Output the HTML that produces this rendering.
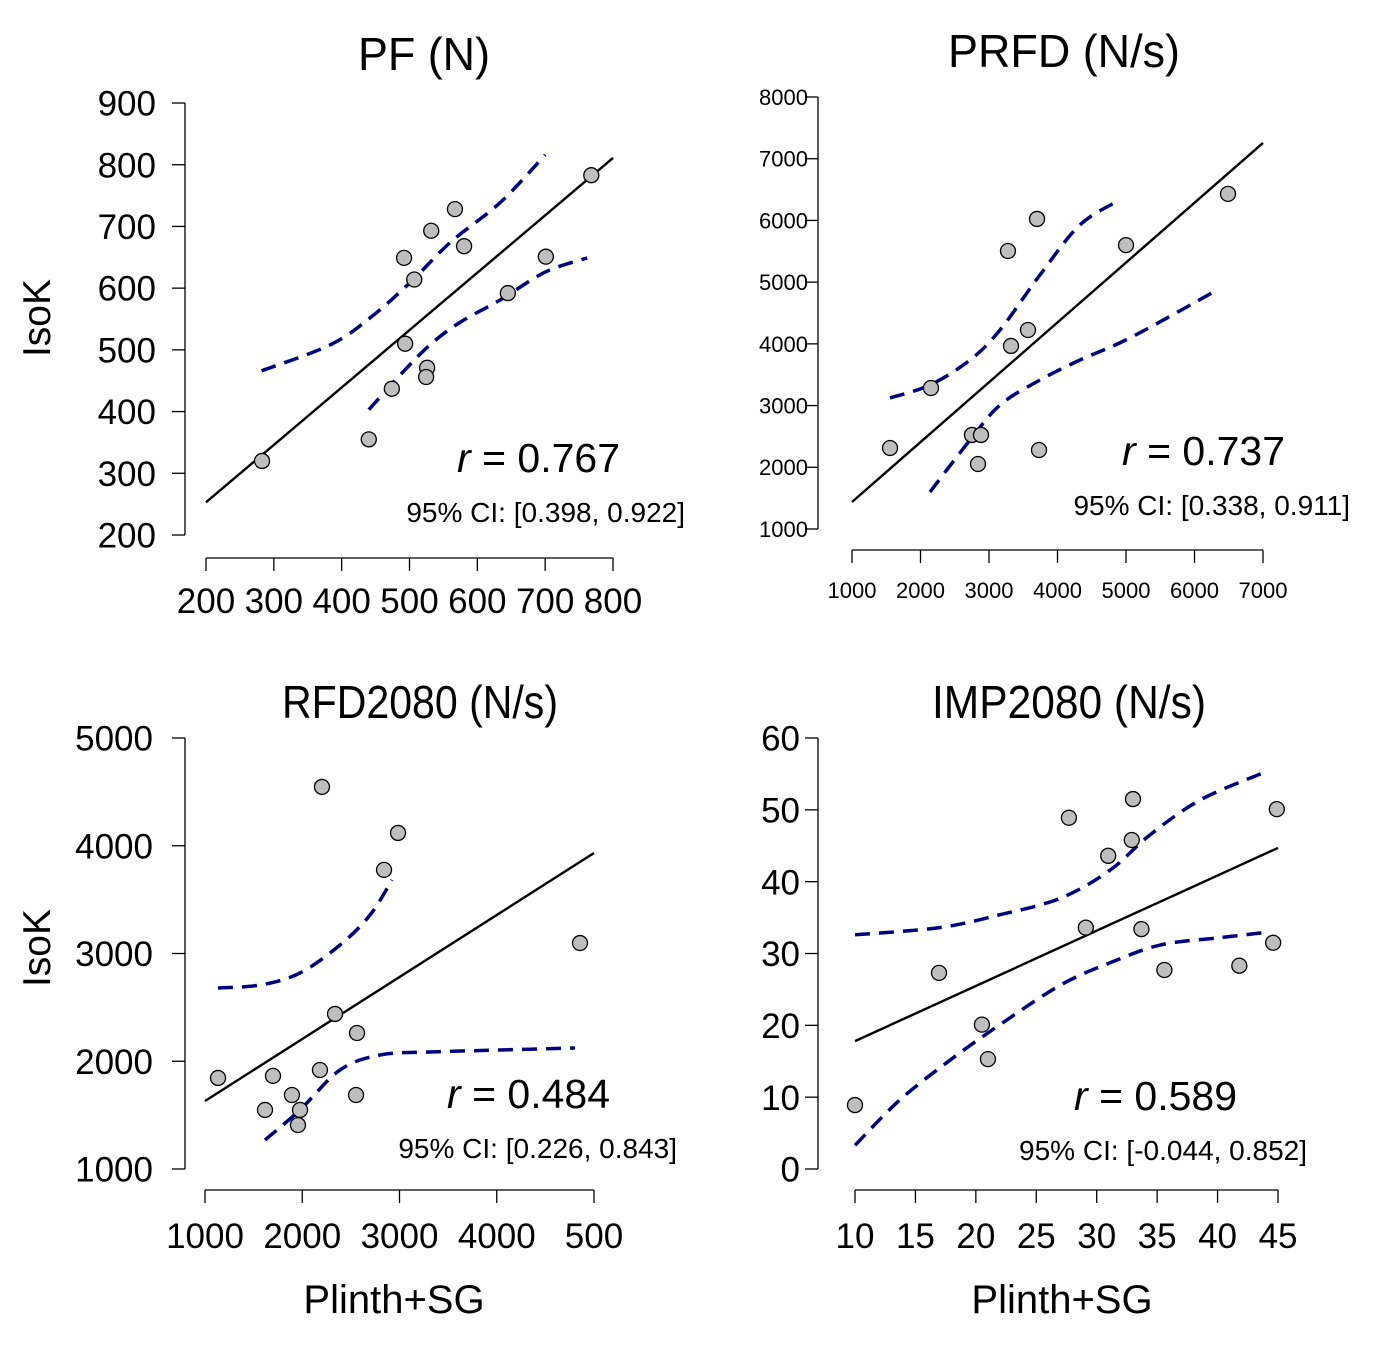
<!DOCTYPE html>
<html><head><meta charset="utf-8"><style>
body{margin:0;background:#fff}
svg{display:block;font-family:"Liberation Sans",Arial,sans-serif}
</style></head><body>
<svg id="chart" width="1380" height="1351" viewBox="0 0 1380 1351"></svg>
<script>
// ---- Panel data ----
const pfX=[282.6,440,474,492,493.6,507,526,524.5,532,567,580.5,645,701,768];
const pfY=[320,355,437,649,510,614,471,456,693,728,668,592,651,783];
const pfReg=[[200,253],[800,811]];
const pfUpX=[282,383,442,501,560,634,700];
const pfUpY=[466,508,552,609,674,739,816];
const pfLoX=[440,486,530,575,634,700,762];
const pfLoY=[403,459,508,545,581,626,649];
const pfXTicks=[200,300,400,500,600,700,800];
const pfYTicks=[200,300,400,500,600,700,800,900];

const prX=[1555,2153,2752,2883,2839,3277,3321,3569,3701,3730,5000,6489];
const prY=[2313,3285,2524,2524,2053,5505,3966,4225,6024,2280,5600,6430];
const prReg=[[1000,1438],[7000,7256]];
const prUpX=[1555,2139,2723,3161,3745,4328,4912];
const prUpY=[3123,3334,3739,4225,5117,5927,6332];
const prLoX=[2139,2723,3161,3745,4328,5058,6255];
const prLoY=[1600,2442,3010,3415,3739,4096,4825];
const prXTicks=[1000,2000,3000,4000,5000,6000,7000];
const prYTicks=[1000,2000,3000,4000,5000,6000,7000,8000];

const rfX=[1134,1617,1699,1894,1956,1977,2182,2203,2337,2553,2563,2841,2985,4856];
const rfY=[1845,1548,1864,1687,1408,1548,1919,4546,2439,1687,2262,3776,4119,3097];
const rfReg=[[1000,1631],[5000,3933]];
const rfUpX=[1134,1566,1977,2388,2697,2923];
const rfUpY=[2680,2708,2819,3079,3357,3682];
const rfLoX=[1617,1977,2388,2800,3314,4033,4805];
const rfLoY=[1269,1548,1919,2058,2086,2104,2123];
const rfXTicks=[1000,2000,3000,4000,5000];
const rfXLabels=["1000","2000","3000","4000","500"];
const rfYTicks=[1000,2000,3000,4000,5000];

const imX=[10,16.95,20.5,21,27.7,29.1,30.95,32.9,33,33.7,35.6,41.8,44.6,44.9];
const imY=[8.9,27.3,20.1,15.3,48.9,33.6,43.6,45.8,51.5,33.4,27.7,28.3,31.5,50.1];
const imReg=[[10,17.8],[45,44.7]];
const imUpX=[10,17,22,27,31.1,34.4,38.6,44];
const imUpY=[32.6,33.6,35.4,37.7,41.6,46.5,51.4,55.3];
const imLoX=[10,13.7,17.9,22,27,31.1,35.3,40.2,44.3];
const imLoY=[3.3,9.6,15.2,20.1,25.6,28.7,31.2,32.2,33];
const imXTicks=[10,15,20,25,30,35,40,45];
const imYTicks=[0,10,20,30,40,50,60];

const svg=document.getElementById('chart');
const NS='http://www.w3.org/2000/svg';
function mk(tag,attrs,parent){const e=document.createElementNS(NS,tag);for(const k in attrs)e.setAttribute(k,attrs[k]);(parent||svg).appendChild(e);return e;}

function smooth(pts){
  let d='M'+pts[0][0].toFixed(1)+','+pts[0][1].toFixed(1);
  for(let i=0;i<pts.length-1;i++){
    const p0=pts[i-1]||pts[i],p1=pts[i],p2=pts[i+1],p3=pts[i+2]||p2;
    const c1=[p1[0]+(p2[0]-p0[0])/6,p1[1]+(p2[1]-p0[1])/6];
    const c2=[p2[0]-(p3[0]-p1[0])/6,p2[1]-(p3[1]-p1[1])/6];
    d+='C'+c1.map(v=>v.toFixed(1)).join(',')+' '+c2.map(v=>v.toFixed(1)).join(',')+' '+p2.map(v=>v.toFixed(1)).join(',');
  }
  return d;
}

function panel(p){
  const g=mk('g',{});
  
  
  const sx=v=>p.px0+(v-p.xd0)/(p.xd1-p.xd0)*(p.px1-p.px0);
  const sy=v=>p.py0+(v-p.yd0)/(p.yd1-p.yd0)*(p.py1-p.py0);
  const ya=mk('line',{x1:p.yAxisX,x2:p.yAxisX,y1:sy(p.yTicks[0]),y2:sy(p.yTicks[p.yTicks.length-1]),stroke:'#000','stroke-width':1.3},g);
  
  
  p.yTicks.forEach(t=>{
    mk('line',{x1:p.yAxisX-13,x2:p.yAxisX,y1:sy(t),y2:sy(t),stroke:'#000','stroke-width':1.3},g);
    const tx=mk('text',{x:p.yAxisX-p.yLabGap,y:sy(t)+p.tfs*0.36,'text-anchor':'end','font-size':p.tfs},g);
    tx.textContent=t;
    
    
  });
  const xa=mk('line',{x1:sx(p.xTicks[0]),x2:sx(p.xTicks[p.xTicks.length-1]),y1:p.xAxisY,y2:p.xAxisY,stroke:'#000','stroke-width':1.3},g);
  
  
  p.xTicks.forEach((t,i)=>{
    mk('line',{x1:sx(t),x2:sx(t),y1:p.xAxisY,y2:p.xAxisY+13,stroke:'#000','stroke-width':1.3},g);
    const tx=mk('text',{x:sx(t),y:p.xAxisY+p.xLabGap,'text-anchor':'middle','font-size':p.tfs},g);
    tx.textContent=p.xLabels?p.xLabels[i]:t;
    
    
  });
  [[p.upX,p.upY,'ci-upper'],[p.loX,p.loY,'ci-lower']].forEach(([xs,ys,n])=>{
    const pts=xs.map((x,i)=>[sx(x),sy(ys[i])]);
    const pa=mk('path',{d:smooth(pts),fill:'none',stroke:'#000080','stroke-width':3.5,'stroke-dasharray':'15,9'},g);
    
    
  });
  const rl=mk('line',{x1:sx(p.reg[0][0]),y1:sy(p.reg[0][1]),x2:sx(p.reg[1][0]),y2:sy(p.reg[1][1]),stroke:'#000','stroke-width':2.4},g);
  
  
  p.xs.forEach((x,i)=>{
    const c=mk('circle',{cx:sx(x),cy:sy(p.ys[i]),r:7.5,fill:'#bebebe',stroke:'#000','stroke-width':1.3},g);
    
    
  });
  const ti=mk('text',{x:p.titleX,y:p.titleY,'text-anchor':'middle','font-size':46,textLength:p.titleW,lengthAdjust:'spacingAndGlyphs'},g);
  ti.textContent=p.title;
  
  
  const rt=mk('text',{x:p.rX,y:p.rY,'text-anchor':'end','font-size':41},g);
  rt.innerHTML='<tspan font-style="italic">r</tspan> = '+p.r;
  
  
  const ct=mk('text',{x:p.rX+p.ciDx,y:p.rY+50,'text-anchor':'end','font-size':28},g);
  ct.textContent='95% CI: '+p.ci;
  
  
}

panel({name:'pf-panel',xs:pfX,ys:pfY,reg:pfReg,upX:pfUpX,upY:pfUpY,loX:pfLoX,loY:pfLoY,xTicks:pfXTicks,yTicks:pfYTicks,
  xd0:200,xd1:800,px0:206,px1:613,yd0:200,yd1:900,py0:535,py1:103,yAxisX:185,xAxisY:558,tfs:35,yLabGap:29,xLabGap:55,
  title:'PF (N)',titleX:424,titleY:70,titleW:132,r:'0.767',rX:620,rY:472,ciDx:65,ci:'[0.398, 0.922]'});
panel({name:'prfd-panel',xs:prX,ys:prY,reg:prReg,upX:prUpX,upY:prUpY,loX:prLoX,loY:prLoY,xTicks:prXTicks,yTicks:prYTicks,
  xd0:1000,xd1:7000,px0:852,px1:1263,yd0:1000,yd1:8000,py0:529,py1:97,yAxisX:818,xAxisY:550,tfs:22,yLabGap:10,xLabGap:48,
  title:'PRFD (N/s)',titleX:1064,titleY:67,titleW:232,r:'0.737',rX:1285,rY:465,ciDx:65,ci:'[0.338, 0.911]'});
panel({name:'rfd2080-panel',xs:rfX,ys:rfY,reg:rfReg,upX:rfUpX,upY:rfUpY,loX:rfLoX,loY:rfLoY,xTicks:rfXTicks,xLabels:rfXLabels,yTicks:rfYTicks,
  xd0:1000,xd1:5000,px0:205,px1:594,yd0:1000,yd1:5000,py0:1169,py1:738,yAxisX:185,xAxisY:1190,tfs:35,yLabGap:32,xLabGap:58,
  title:'RFD2080 (N/s)',titleX:420,titleY:718,titleW:276,r:'0.484',rX:610,rY:1108,ciDx:67,ci:'[0.226, 0.843]'});
panel({name:'imp2080-panel',xs:imX,ys:imY,reg:imReg,upX:imUpX,upY:imUpY,loX:imLoX,loY:imLoY,xTicks:imXTicks,yTicks:imYTicks,
  xd0:10,xd1:45,px0:855,px1:1278,yd0:0,yd1:60,py0:1169,py1:738,yAxisX:818,xAxisY:1190,tfs:35,yLabGap:18,xLabGap:58,
  title:'IMP2080 (N/s)',titleX:1069,titleY:718,titleW:274,r:'0.589',rX:1237,rY:1110,ciDx:70,ci:'[-0.044, 0.852]'});

[['IsoK',37,318,'y-axis-title-top'],['IsoK',37,948,'y-axis-title-bottom']].forEach(([t,x,y,n])=>{
  const e=mk('text',{x:x+13,y:y,'text-anchor':'middle','font-size':39,transform:`rotate(-90 ${x+13} ${y})`});
  e.textContent=t;
  
  
});
[['Plinth+SG',394,'x-axis-title-left'],['Plinth+SG',1062,'x-axis-title-right']].forEach(([t,x,n])=>{
  const e=mk('text',{x:x,y:1313,'text-anchor':'middle','font-size':40});
  e.textContent=t;
  
  
});
</script>
</body></html>
